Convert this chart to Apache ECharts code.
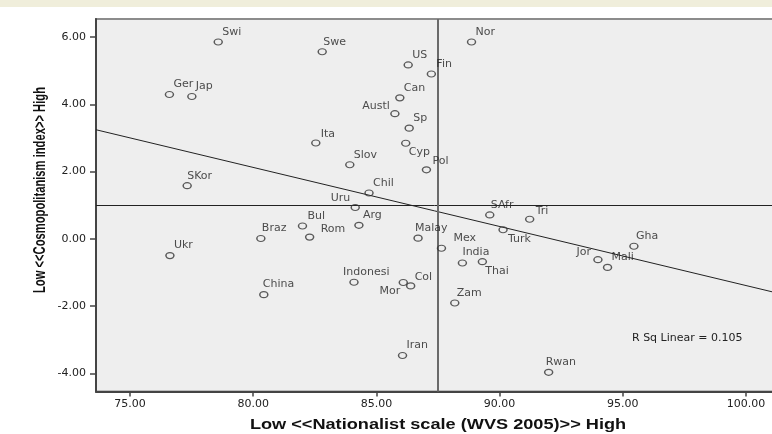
<!DOCTYPE html>
<html>
<head>
<meta charset="utf-8">
<script src="https://cdn.jsdelivr.net/npm/echarts@6/dist/echarts.min.js"></script>
<style>
  html, body { margin: 0; padding: 0; background: #ffffff; }
  #chart { width: 772px; height: 434px; }
</style>
</head>
<body>
<div id="chart"></div>
<script>
// Country scores: nationalism (WVS 2005) vs cosmopolitanism index
const countries = ['Swi','Swe','Ger','Jap','Nor','US','Fin','Can','Austl','Sp','Ita','Cyp','Slov','Pol','SKor','Chil','Uru','SAfr','Tri','Arg','Bul','Braz','Rom','Ukr','Malay','Mex','Turk','Gha','Jor','Mali','India','Thai','Indonesi','Mor','Col','China','Zam','Iran','Rwan'];
const nationalist = [78.58,82.80,76.60,77.51,88.86,86.29,87.23,85.95,85.75,86.33,82.54,86.19,83.92,87.03,77.32,84.70,84.14,89.60,91.22,84.29,82.00,80.31,82.29,76.62,86.69,87.64,90.14,95.45,93.99,94.38,88.49,89.30,84.09,86.09,86.39,80.43,88.18,86.06,91.99];
const cosmopolitan = [5.85,5.56,4.29,4.23,5.85,5.17,4.90,4.19,3.72,3.29,2.85,2.84,2.20,2.05,1.58,1.36,0.93,0.71,0.58,0.40,0.38,0.01,0.05,-0.50,0.02,-0.28,0.27,-0.22,-0.62,-0.85,-0.72,-0.68,-1.29,-1.30,-1.40,-1.66,-1.91,-3.47,-3.97];

// Axis ticks and titles
const xTicks = [75, 80, 85, 90, 95, 100];
const yTicks = [-4, -2, 0, 2, 4, 6];
const xTitle = 'Low <<Nationalist scale (WVS 2005)>> High';
const yTitle = 'Low <<Cosmopolitanism index>> High';

// Reference lines and linear fit
const xRef = 87.5;
const yRef = 1.0;
const fitIntercept = 16.17;
const fitSlope = -0.1756;
const rSquared = 0.105;

const xMin = 73.62, xMax = 101.46;
const yMin = -4.54, yMax = 6.535;

// Label placement around each marker: [dx, dy, align]
const defaultLabel = [4, -10, 'left'];
const labelLayout = {
  Swe: [1, -9.5, 'left'], Austl: [-5, -8, 'right'], Uru: [-5, -9, 'right'],
  Cyp: [3, 9, 'left'], Tri: [6, -8, 'left'], Rom: [11, -8, 'left'],
  Indonesi: [-11, -10, 'left'], China: [-1, -10, 'left'], Malay: [-3, -10, 'left'],
  Mex: [12, -10, 'left'], Turk: [5, 9, 'left'], Jor: [-7, -8, 'right'],
  India: [0, -11, 'left'], Thai: [3, 9, 'left'], Mor: [-3, 9, 'right'],
  Rwan: [-3, -10, 'left'], SKor: [0, -10, 'left'], Braz: [1, -10, 'left'],
  SAfr: [1, -10, 'left'], Gha: [2, -10, 'left'], Pol: [6, -9, 'left'],
  Fin: [5, -10, 'left'], Bul: [5, -10, 'left'], Col: [4, -9, 'left'],
  Zam: [2, -10, 'left'], Ita: [5, -9, 'left']
};

const points = countries.map((name, i) => {
  const p = labelLayout[name] || defaultLabel;
  return {
    name: name,
    value: [nationalist[i], cosmopolitan[i]],
    label: { align: p[2], offset: [p[0], p[1]] }
  };
});

const fitLine = [
  [xMin, fitIntercept + fitSlope * xMin],
  [xMax, fitIntercept + fitSlope * xMax]
];

const textFont = '"DejaVu Sans", Verdana, sans-serif';
const titleFont = '"Liberation Sans", Arial, sans-serif';

const chart = echarts.init(document.getElementById('chart'), null, { renderer: 'canvas' });
chart.setOption({
  animation: false,
  backgroundColor: '#ffffff',
  graphic: [
    { type: 'rect', left: 0, top: 0, shape: { width: 772, height: 7 }, style: { fill: '#f0eedb' }, z: -1 },
    {
      type: 'text', left: 632, top: 333,
      style: { text: 'R Sq Linear = ' + rSquared.toFixed(3), font: '11px ' + textFont, fill: '#222' },
      z: 10
    },
    {
      // horizontal axis title, widened to the report's spacing
      type: 'text', x: 438, y: 425, scaleX: 1.21,
      style: {
        text: xTitle, font: 'bold 15px ' + titleFont, fill: '#111',
        align: 'center', verticalAlign: 'middle'
      }
    },
    {
      // vertical axis title in a condensed setting
      type: 'text', x: 40, y: 190, rotation: Math.PI / 2, scaleX: 0.8, scaleY: 1.2,
      style: {
        text: yTitle, font: 'bold 14px ' + titleFont, fill: '#111',
        align: 'center', verticalAlign: 'middle'
      }
    }
  ],
  grid: {
    left: 96, top: 19, right: -10, bottom: 42.5,
    outerBoundsMode: 'none',
    show: true, backgroundColor: '#eeeeee', borderColor: '#8c8c8c', borderWidth: 2
  },
  xAxis: {
    type: 'value', min: xMin, max: xMax,
    splitLine: { show: false },
    axisLine: { show: true, onZero: false, lineStyle: { color: '#444', width: 2 } },
    axisTick: { show: true, length: 5, customValues: xTicks, lineStyle: { color: '#444', width: 1.5 } },
    axisLabel: {
      customValues: xTicks, margin: 7,
      formatter: v => v.toFixed(2), fontFamily: textFont, fontSize: 11, color: '#222'
    }
  },
  yAxis: {
    type: 'value', min: yMin, max: yMax,
    splitLine: { show: false },
    axisLine: { show: true, onZero: false, lineStyle: { color: '#444', width: 2 } },
    axisTick: { show: true, length: 6, customValues: yTicks, lineStyle: { color: '#444', width: 1.5 } },
    axisLabel: {
      customValues: yTicks, margin: 10,
      formatter: v => v.toFixed(2), fontFamily: textFont, fontSize: 11, color: '#222'
    }
  },
  series: [
    {
      type: 'line',
      data: fitLine,
      symbol: 'none',
      lineStyle: { color: '#222', width: 1 },
      silent: true,
      z: 2,
      markLine: {
        silent: true, symbol: 'none', label: { show: false },
        data: [
          { yAxis: yRef, lineStyle: { color: '#222', width: 1, type: 'solid' } },
          { xAxis: xRef, lineStyle: { color: '#6a6a6a', width: 2, type: 'solid' } }
        ]
      }
    },
    {
      type: 'scatter',
      data: points,
      symbol: 'circle',
      symbolSize: [8, 6],
      itemStyle: { color: 'rgba(0,0,0,0)', borderColor: '#333', borderWidth: 1.3 },
      label: {
        show: true, position: 'inside', verticalAlign: 'middle',
        formatter: p => p.name,
        fontFamily: textFont, fontSize: 11, color: '#222'
      },
      z: 5
    }
  ]
});
</script>
</body>
</html>
